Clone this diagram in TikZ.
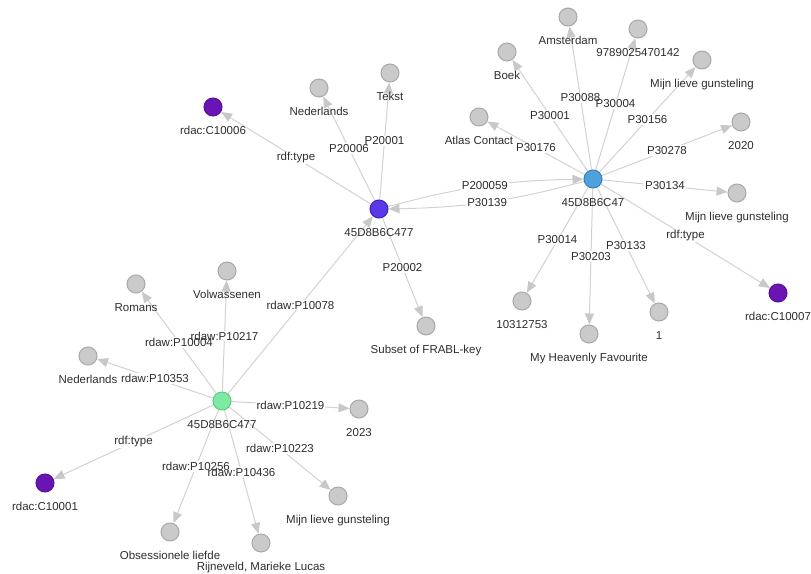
\documentclass[tikz,border=0pt]{standalone}
\usepackage{fontspec}
\setmainfont{Liberation Sans}
\usetikzlibrary{arrows.meta}
\pgfdeclarelayer{bg}
\pgfsetlayers{bg,main}
\definecolor{txt}{RGB}{45,45,45}
\definecolor{edgec}{RGB}{210,210,210}
\definecolor{tipc}{RGB}{200,200,200}
\definecolor{grayf}{RGB}{202,202,202}
\definecolor{grayd}{RGB}{168,168,168}
\definecolor{purf}{RGB}{106,20,180}
\definecolor{purd}{RGB}{88,14,156}
\definecolor{wf}{RGB}{90,56,232}
\definecolor{wd}{RGB}{64,34,196}
\definecolor{mf}{RGB}{80,160,220}
\definecolor{md}{RGB}{58,128,190}
\definecolor{ef}{RGB}{124,234,162}
\definecolor{ed}{RGB}{92,200,132}
\begin{document}
\begin{tikzpicture}[x=1pt,y=-1pt,
  every node/.style={font=\fontsize{11.5}{13}\selectfont, text=txt},
  vnode/.style={circle, minimum size=18pt, inner sep=0pt, line width=1pt},
  gnode/.style={vnode, fill=grayf, draw=grayd},
  pnode/.style={vnode, fill=purf, draw=purd},
  wnode/.style={vnode, fill=wf, draw=wd},
  mnode/.style={vnode, fill=mf, draw=md},
  enode/.style={vnode, fill=ef, draw=ed},
  nlbl/.style={inner sep=0pt, text height=8.5pt, text depth=2.5pt, label distance=9pt},
  edge/.style={draw=edgec, line width=1pt, -{Triangle[length=11pt,width=9pt,fill=tipc,color=tipc]}},
  elabbg/.style={fill=white, text=white, inner sep=1pt, midway},
  elab/.style={inner sep=1pt, midway}]
\useasboundingbox (0,0) rectangle (811,573);
% hubs
\node[wnode, label={[nlbl]below:{45D8B6C477}}] (W) at (379,209) {};
\node[mnode, label={[nlbl]below:{45D8B6C47}}] (M) at (593,179) {};
\node[enode, label={[nlbl]below:{45D8B6C477}}] (E) at (222,401) {};
% W leaves
\node[gnode, label={[nlbl]below:{Nederlands}}] (NedW) at (319,88) {};
\node[gnode, label={[nlbl]below:{Tekst}}] (Tekst) at (390,73) {};
\node[pnode, label={[nlbl]below:{rdac:C10006}}] (C10006) at (213,107) {};
\node[gnode, label={[nlbl]below:{Subset of FRABL-key}}] (Subset) at (426,326) {};
% M leaves
\node[gnode, label={[nlbl]below:{Amsterdam}}] (Amst) at (568,17) {};
\node[gnode, label={[nlbl]below:{9789025470142}}] (Isbn) at (638,29) {};
\node[gnode, label={[nlbl]below:{Boek}}] (Boek) at (507,52) {};
\node[gnode, label={[nlbl]below:{Mijn lieve gunsteling}}] (MijnT) at (702,60) {};
\node[gnode, label={[nlbl]below:{Atlas Contact}}] (Atlas) at (479,117) {};
\node[gnode, label={[nlbl]below:{2020}}] (Y2020) at (741,122) {};
\node[gnode, label={[nlbl]below:{Mijn lieve gunsteling}}] (MijnR) at (737,193) {};
\node[pnode, label={[nlbl]below:{rdac:C10007}}] (C10007) at (778,293) {};
\node[gnode, label={[nlbl]below:{1}}] (One) at (659,312) {};
\node[gnode, label={[nlbl]below:{My Heavenly Favourite}}] (Heaven) at (589,334) {};
\node[gnode, label={[nlbl]below:{10312753}}] (Num) at (522,301) {};
% E leaves
\node[gnode, label={[nlbl]below:{Romans}}] (Romans) at (136,284) {};
\node[gnode, label={[nlbl]below:{Volwassenen}}] (Volw) at (227,271) {};
\node[gnode, label={[nlbl]below:{Nederlands}}] (NedE) at (88,356) {};
\node[gnode, label={[nlbl]below:{2023}}] (Y2023) at (359,409) {};
\node[pnode, label={[nlbl]below:{rdac:C10001}}] (C10001) at (45,483) {};
\node[gnode, label={[nlbl]below:{Mijn lieve gunsteling}}] (MijnB) at (338,496) {};
\node[gnode, label={[nlbl]below:{Obsessionele liefde}}] (Obs) at (170,532) {};
\node[gnode, label={[nlbl]below:{Rijneveld, Marieke Lucas}}] (Rijn) at (261,543) {};
\def\edgelist{W/NedW/P20006, W/Tekst/P20001, W/C10006/rdf:type, W/Subset/P20002,
  M/Amst/P30088, M/Isbn/P30004, M/Boek/P30001, M/MijnT/P30156, M/Atlas/P30176,
  M/Y2020/P30278, M/MijnR/P30134, M/C10007/rdf:type, M/One/P30133, M/Heaven/P30203,
  M/Num/P30014, E/W/rdaw:P10078, E/Romans/rdaw:P10004, E/Volw/rdaw:P10217,
  E/NedE/rdaw:P10353, E/Y2023/rdaw:P10219, E/C10001/rdf:type, E/MijnB/rdaw:P10223,
  E/Obs/rdaw:P10256, E/Rijn/rdaw:P10436}
\begin{pgfonlayer}{bg}
\foreach \efrom/\eto/\elab in \edgelist {
  \draw[edge] (\efrom) -- node[elabbg]{\elab} (\eto);
}
\draw[edge] (W) to[bend left=7] node[elabbg]{P200059} (M);
\draw[edge] (M) to[bend left=7] node[elabbg]{P30139} (W);
\end{pgfonlayer}
\foreach \efrom/\eto/\elab in \edgelist {
  \path (\efrom) -- node[elab]{\elab} (\eto);
}
\path (W) to[bend left=7] node[elab]{P200059} (M);
\path (M) to[bend left=7] node[elab]{P30139} (W);
\end{tikzpicture}
\end{document}
